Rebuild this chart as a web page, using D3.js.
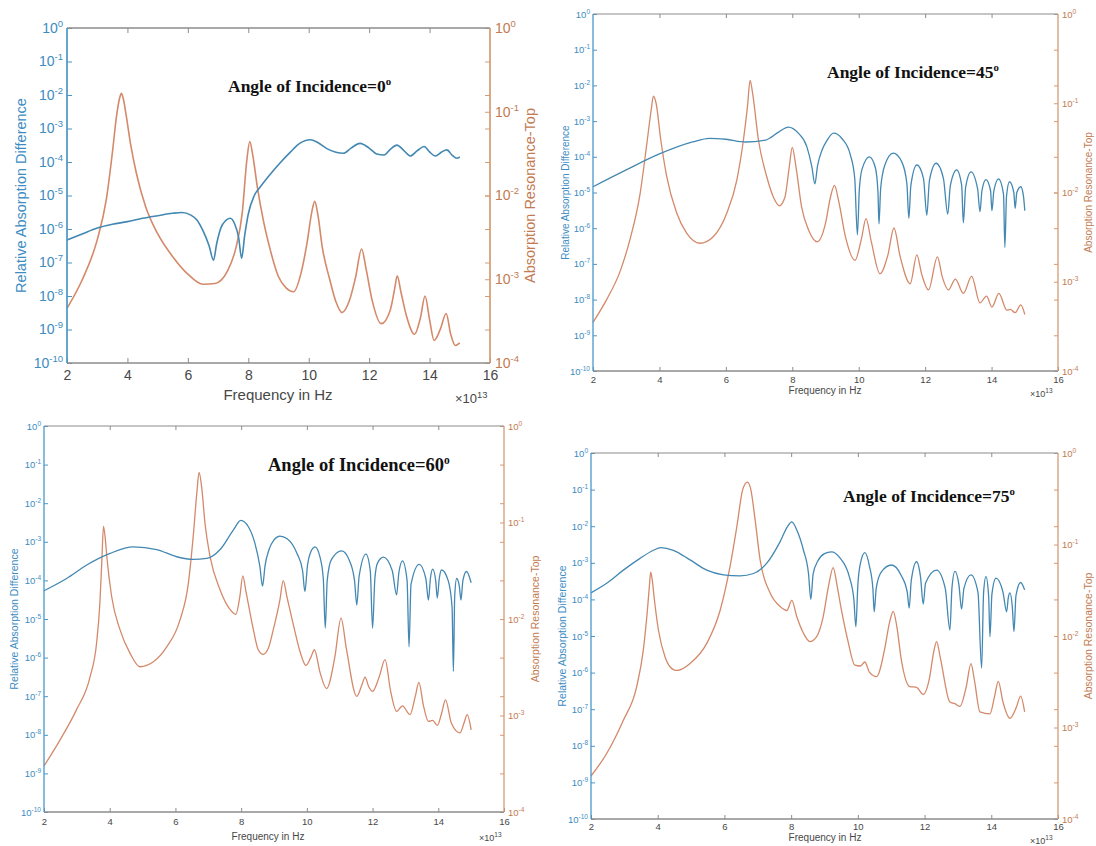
<!DOCTYPE html>
<html>
<head>
<meta charset="utf-8">
<script src="https://cdn.jsdelivr.net/npm/d3@7"></script>
<style>
  body { margin: 0; background: #ffffff; }
  svg { display: block; }
  text { font-family: Arial, "Liberation Sans", Helvetica, sans-serif; }
  .title { font-family: "Liberation Serif", "Times New Roman", serif; font-weight: bold; fill: #111; }
</style>
</head>
<body>
<svg id="fig" width="1096" height="846"></svg>
<script>
// ---- Axis ticks ----
const freqTicks = [2, 4, 6, 8, 10, 12, 14, 16];
const diffTicks = [1, 1e-1, 1e-2, 1e-3, 1e-4, 1e-5, 1e-6, 1e-7, 1e-8, 1e-9, 1e-10];
const resTicks = [1, 1e-1, 1e-2, 1e-3, 1e-4];
const angles = [0, 45, 60, 75];

// ---- Relative absorption difference (left axis), [frequency / 1e13 Hz, value] ----
const diff0 = [[2.0,4.7e-7],[2.5,7.1e-7],[3.0,1.07e-6],[3.5,1.38e-6],[4.0,1.66e-6],[4.5,2.09e-6],[5.0,2.5e-6],[5.5,2.95e-6],[5.8,3.1e-6],[6.1,2.6e-6],[6.3,1.86e-6],[6.5,8.9e-7],[6.7,3.2e-7],[6.85,1.17e-7],[6.95,3.5e-7],[7.1,1.12e-6],[7.25,1.78e-6],[7.4,2.09e-6],[7.55,1.41e-6],[7.68,5.6e-7],[7.78,1.35e-7],[7.88,6.3e-7],[8.0,2.8e-6],[8.2,1.0e-5],[8.4,1.82e-5],[8.7,4.0e-5],[9.05,9.3e-5],[9.4,2.0e-4],[9.7,3.6e-4],[9.9,4.4e-4],[10.05,4.6e-4],[10.3,3.8e-4],[10.6,2.5e-4],[10.9,1.95e-4],[11.15,1.82e-4],[11.4,2.6e-4],[11.7,3.6e-4],[12.0,2.6e-4],[12.25,1.74e-4],[12.5,1.62e-4],[12.7,2.4e-4],[12.92,3.2e-4],[13.15,2.2e-4],[13.36,1.51e-4],[13.6,2.2e-4],[13.82,2.9e-4],[14.0,2.0e-4],[14.19,1.51e-4],[14.4,2.0e-4],[14.57,2.3e-4],[14.75,1.58e-4],[14.9,1.29e-4],[15.0,1.41e-4]];

const diff45 = [[2.0,1.45e-5],[3.0,4.3e-5],[4.0,1.2e-4],[5.0,2.6e-4],[5.5,3.3e-4],[6.0,3.1e-4],[6.6,2.6e-4],[7.2,2.95e-4],[7.6,5.0e-4],[7.88,6.8e-4],[8.18,4.6e-4],[8.44,1.9e-4],[8.59,5.2e-5],[8.68,1.74e-5],[8.76,5.6e-5],[8.9,1.58e-4],[9.04,2.8e-4],[9.24,4.6e-4],[9.5,3.2e-4],[9.75,1.12e-4],[9.88,2.5e-5],[9.96,6.5e-7],[10.02,1.26e-5],[10.1,4.5e-5],[10.32,1.0e-4],[10.5,5.0e-5],[10.58,1.0e-5],[10.61,1.32e-6],[10.66,1.26e-5],[10.78,5.6e-5],[11.04,1.26e-4],[11.3,7.1e-5],[11.45,1.78e-5],[11.51,1.9e-6],[11.57,1.58e-5],[11.75,5.9e-5],[11.95,2.5e-5],[12.05,2.3e-6],[12.13,2.2e-5],[12.33,6.6e-5],[12.55,2.5e-5],[12.68,2.5e-6],[12.76,1.58e-5],[12.95,4.3e-5],[13.1,1.58e-5],[13.15,1.41e-6],[13.22,1.41e-5],[13.38,3.8e-5],[13.58,1.26e-5],[13.65,2.9e-6],[13.71,1.12e-5],[13.83,2.3e-5],[13.97,1.12e-5],[14.01,3.1e-6],[14.07,1.12e-5],[14.21,2.4e-5],[14.36,8.9e-6],[14.40,2.9e-7],[14.45,7.9e-6],[14.54,2.0e-5],[14.67,1.0e-5],[14.71,3.6e-6],[14.76,1.0e-5],[14.88,1.45e-5],[14.96,7.9e-6],[15.0,3.1e-6]];

const diff60 = [[2.0,5.4e-5],[2.69,1.12e-4],[3.3,2.5e-4],[4.01,5.0e-4],[4.72,7.4e-4],[5.43,6.3e-4],[6.04,4.1e-4],[6.54,3.5e-4],[6.95,3.7e-4],[7.36,6.3e-4],[7.76,2.0e-3],[7.99,3.6e-3],[8.22,2.45e-3],[8.42,9.1e-4],[8.57,2.3e-4],[8.65,7.1e-5],[8.73,2.5e-4],[8.85,6.3e-4],[9.0,1.12e-3],[9.18,1.41e-3],[9.4,1.2e-3],[9.7,5.0e-4],[9.87,1.78e-4],[9.94,5.1e-5],[10.02,2.5e-4],[10.1,5.0e-4],[10.25,7.4e-4],[10.4,4.0e-4],[10.5,1.12e-4],[10.56,5.8e-6],[10.62,1.0e-4],[10.75,3.5e-4],[11.06,5.8e-4],[11.3,3.2e-4],[11.45,1.0e-4],[11.52,2.3e-5],[11.59,1.26e-4],[11.8,4.8e-4],[11.93,1.78e-4],[12.0,5.8e-6],[12.07,1.12e-4],[12.15,2.8e-4],[12.33,4.0e-4],[12.6,1.78e-4],[12.73,4.2e-5],[12.8,1.58e-4],[12.91,3.2e-4],[13.05,1.0e-4],[13.11,1.9e-6],[13.17,7.9e-5],[13.42,2.6e-4],[13.62,1.12e-4],[13.7,3.1e-5],[13.76,1.12e-4],[13.83,1.95e-4],[13.92,1.0e-4],[13.97,3.5e-5],[14.03,1.12e-4],[14.1,1.86e-4],[14.3,1.0e-4],[14.42,2.0e-5],[14.46,4.4e-7],[14.5,4.0e-5],[14.56,1.12e-4],[14.64,7.1e-5],[14.69,3.1e-5],[14.75,1.0e-4],[14.86,1.7e-4],[15.0,8.7e-5]];

const diff75 = [[2.0,1.51e-4],[2.47,2.75e-4],[2.97,6.3e-4],[3.47,1.32e-3],[3.87,2.2e-3],[4.09,2.6e-3],[4.47,2.2e-3],[4.97,1.2e-3],[5.47,6.3e-4],[5.97,4.7e-4],[6.47,4.4e-4],[6.87,5.1e-4],[7.27,9.8e-4],[7.67,3.8e-3],[7.89,9.8e-3],[8.02,1.32e-2],[8.17,7.9e-3],[8.37,2.2e-3],[8.52,5.1e-4],[8.59,1.0e-4],[8.66,5.0e-4],[8.8,1.12e-3],[9.0,1.78e-3],[9.21,2.0e-3],[9.45,1.41e-3],[9.75,4.0e-4],[9.88,1.0e-4],[9.94,1.78e-5],[10.0,2.5e-4],[10.08,1.0e-3],[10.21,1.9e-3],[10.35,7.9e-4],[10.45,2.0e-4],[10.49,4.6e-5],[10.55,2.0e-4],[10.7,5.6e-4],[11.01,8.7e-4],[11.3,4.5e-4],[11.48,1.58e-4],[11.54,5.8e-5],[11.6,3.2e-4],[11.76,1.07e-3],[11.88,4.0e-4],[11.96,7.4e-5],[12.03,2.8e-4],[12.36,6.3e-4],[12.62,2.0e-4],[12.76,1.45e-5],[12.82,2.0e-4],[12.91,5.8e-4],[13.03,2.5e-4],[13.11,5.4e-5],[13.18,2.0e-4],[13.39,4.7e-4],[13.6,1.58e-4],[13.71,1.32e-6],[13.77,1.58e-4],[13.84,4.2e-4],[13.92,1.26e-4],[13.96,9.5e-6],[14.02,1.41e-4],[14.14,3.8e-4],[14.35,1.58e-4],[14.46,4.6e-5],[14.51,1.12e-4],[14.56,1.51e-4],[14.63,6.3e-5],[14.68,1.32e-5],[14.74,1.26e-4],[14.88,2.9e-4],[15.0,1.82e-4]];

// ---- Absorption resonance, top layer (right axis), [frequency / 1e13 Hz, value] ----
const top0 = [[2.0,4.5e-4],[2.5,9.8e-4],[3.0,2.95e-3],[3.3,8.9e-3],[3.5,3.2e-2],[3.65,9.5e-2],[3.74,0.145],[3.8,0.166],[3.86,0.145],[3.95,9.5e-2],[4.1,4.2e-2],[4.3,1.82e-2],[4.6,7.4e-3],[5.0,3.5e-3],[5.5,1.86e-3],[6.0,1.15e-3],[6.5,8.7e-4],[6.9,8.9e-4],[7.3,1.23e-3],[7.6,2.45e-3],[7.8,6.2e-3],[7.95,2.6e-2],[8.05,4.4e-2],[8.15,3.0e-2],[8.3,1.26e-2],[8.5,5.0e-3],[8.7,2.45e-3],[9.0,1.07e-3],[9.25,7.9e-4],[9.5,7.1e-4],[9.75,1.2e-3],[9.95,2.8e-3],[10.1,6.3e-3],[10.2,8.5e-3],[10.3,6.0e-3],[10.45,2.4e-3],[10.7,9.8e-4],[10.9,5.4e-4],[11.1,4.0e-4],[11.35,5.6e-4],[11.55,1.05e-3],[11.75,2.3e-3],[11.9,1.32e-3],[12.1,5.6e-4],[12.4,2.95e-4],[12.7,4.3e-4],[12.85,7.9e-4],[12.93,1.1e-3],[13.05,7.1e-4],[13.25,3.5e-4],[13.5,2.2e-4],[13.7,3.5e-4],[13.85,6.3e-4],[14.0,3.3e-4],[14.15,1.86e-4],[14.35,2.5e-4],[14.55,3.9e-4],[14.7,2.2e-4],[14.85,1.62e-4],[15.0,1.74e-4]];

const top45 = [[2.0,3.5e-4],[2.41,6.3e-4],[2.81,1.29e-3],[3.11,2.95e-3],[3.42,9.8e-3],[3.62,3.5e-2],[3.75,8.3e-2],[3.82,0.12],[3.9,0.1],[4.04,3.9e-2],[4.22,1.51e-2],[4.52,5.9e-3],[4.82,3.5e-3],[5.22,2.7e-3],[5.62,3.2e-3],[6.03,5.9e-3],[6.33,1.38e-2],[6.53,3.9e-2],[6.65,9.1e-2],[6.73,0.18],[6.81,0.126],[6.98,3.9e-2],[7.23,1.51e-2],[7.43,8.9e-3],[7.61,7.1e-3],[7.78,8.9e-3],[7.91,1.95e-2],[8.0,3.2e-2],[8.11,1.95e-2],[8.28,6.9e-3],[8.49,3.8e-3],[8.75,2.8e-3],[9.0,4.5e-3],[9.15,8.9e-3],[9.27,1.2e-2],[9.4,7.9e-3],[9.6,3.2e-3],[9.89,1.74e-3],[10.08,3.0e-3],[10.22,5.1e-3],[10.38,2.8e-3],[10.64,1.23e-3],[10.88,2.0e-3],[11.06,4.0e-3],[11.25,1.9e-3],[11.55,9.5e-4],[11.75,2.0e-3],[11.9,1.2e-3],[12.1,8.1e-4],[12.37,1.9e-3],[12.52,1.12e-3],[12.7,8.1e-4],[12.91,1.07e-3],[13.15,7.4e-4],[13.40,1.15e-3],[13.65,5.8e-4],[13.85,6.9e-4],[14.01,5.2e-4],[14.22,7.4e-4],[14.46,4.8e-4],[14.56,4.9e-4],[14.71,4.5e-4],[14.88,5.5e-4],[15.0,4.3e-4]];

const top60 = [[2.0,3.0e-4],[2.49,5.6e-4],[2.99,1.15e-3],[3.4,2.5e-3],[3.6,5.6e-3],[3.7,1.45e-2],[3.76,4.0e-2],[3.81,9.1e-2],[3.86,7.1e-2],[3.91,4.5e-2],[4.06,1.7e-2],[4.31,7.8e-3],[4.62,4.4e-3],[4.92,3.2e-3],[5.33,3.6e-3],[5.73,5.1e-3],[6.14,9.8e-3],[6.39,2.3e-2],[6.54,7.1e-2],[6.65,0.2],[6.72,0.33],[6.8,0.23],[6.9,9.8e-2],[7.05,4.5e-2],[7.36,2.0e-2],[7.66,1.26e-2],[7.84,1.12e-2],[7.96,1.7e-2],[8.05,2.8e-2],[8.15,1.9e-2],[8.37,7.8e-3],[8.52,4.8e-3],[8.67,4.3e-3],[8.83,5.0e-3],[8.98,7.8e-3],[9.18,1.58e-2],[9.28,2.5e-2],[9.4,1.66e-2],[9.59,8.7e-3],[9.8,4.5e-3],[9.97,3.3e-3],[10.12,4.0e-3],[10.23,4.8e-3],[10.4,2.8e-3],[10.6,1.9e-3],[10.85,4.0e-3],[11.04,1.02e-2],[11.2,5.0e-3],[11.52,1.58e-3],[11.68,2.1e-3],[11.77,2.5e-3],[11.88,2.0e-3],[12.0,1.78e-3],[12.2,2.5e-3],[12.38,3.8e-3],[12.55,1.78e-3],[12.73,1.1e-3],[12.91,1.26e-3],[13.14,1.02e-3],[13.3,1.58e-3],[13.41,2.2e-3],[13.55,1.26e-3],[13.7,8.7e-4],[13.83,8.9e-4],[13.97,7.9e-4],[14.1,1.05e-3],[14.22,1.45e-3],[14.4,8.3e-4],[14.66,6.6e-4],[14.78,8.3e-4],[14.88,1.02e-3],[15.0,7.1e-4]];

const top75 = [[2.0,2.95e-4],[2.47,5.2e-4],[2.97,1.2e-3],[3.37,2.8e-3],[3.57,7.1e-3],[3.69,1.9e-2],[3.75,3.5e-2],[3.79,5.0e-2],[3.84,4.0e-2],[3.89,2.7e-2],[4.02,1.17e-2],[4.22,5.9e-3],[4.47,4.3e-3],[4.59,4.2e-3],[4.97,5.0e-3],[5.47,8.3e-3],[5.87,1.9e-2],[6.17,5.8e-2],[6.37,0.155],[6.55,0.4],[6.69,0.48],[6.79,0.4],[6.92,0.186],[7.07,6.8e-2],[7.37,2.95e-2],[7.67,2.1e-2],[7.87,1.9e-2],[8.02,2.45e-2],[8.17,1.62e-2],[8.37,1.07e-2],[8.56,8.7e-3],[8.76,9.8e-3],[8.96,1.62e-2],[9.12,3.5e-2],[9.26,5.6e-2],[9.38,3.5e-2],[9.51,1.9e-2],[9.7,8.9e-3],[9.91,4.8e-3],[10.08,4.7e-3],[10.21,5.2e-3],[10.35,4.0e-3],[10.56,3.6e-3],[10.8,7.1e-3],[10.95,1.41e-2],[11.06,1.86e-2],[11.17,1.26e-2],[11.3,5.6e-3],[11.56,2.8e-3],[11.76,2.75e-3],[11.96,2.3e-3],[12.15,3.5e-3],[12.27,6.6e-3],[12.36,8.7e-3],[12.48,5.6e-3],[12.76,1.9e-3],[12.91,1.82e-3],[13.06,1.7e-3],[13.25,2.8e-3],[13.39,5.0e-3],[13.5,3.2e-3],[13.66,1.48e-3],[13.96,1.41e-3],[14.1,2.2e-3],[14.21,3.2e-3],[14.35,1.9e-3],[14.56,1.26e-3],[14.75,1.66e-3],[14.88,2.2e-3],[15.0,1.48e-3]];

const diffSeries = [diff0, diff45, diff60, diff75];
const topSeries = [top0, top45, top60, top75];

// ---- Panel placement and styling ----
const small = { fs: 9.5, sup: 6.5, supDy: -4, lab: 10, tick: 4, axisW: 1.3, lineW: 1.3, pad: 3 };
const layouts = [
  { x0: 67, x1: 490, y0: 28, y1: 363, fs: 14, sup: 9.5, supDy: -6, lab: 14.5, tick: 5, axisW: 1.7, lineW: 1.6, pad: 4,
    xLabY: 380, freqY: 400, freqFs: 15, freqX: 278, expX: 455, expY: 403, expFs: 13,
    leftLabX: 21, rightLabX: 530, titleX: 228, titleY: 92, titleFs: 17.5 },
  Object.assign({}, small, { x0: 593, x1: 1058, y0: 14, y1: 371,
    xLabY: 383, freqY: 394, freqFs: 10, freqX: 825, expX: 1030, expY: 397, expFs: 9,
    leftLabX: 565, rightLabX: 1088, titleX: 827, titleY: 78, titleFs: 17.5 }),
  Object.assign({}, small, { x0: 44, x1: 504, y0: 426, y1: 812, lab: 10.5,
    xLabY: 825, freqY: 840, freqFs: 10, freqX: 268, expX: 479, expY: 841, expFs: 9,
    leftLabX: 14, rightLabX: 535, titleX: 268, titleY: 471, titleFs: 18.5 }),
  Object.assign({}, small, { x0: 591, x1: 1058, y0: 453, y1: 819, lab: 10.5,
    xLabY: 830, freqY: 841, freqFs: 10, freqX: 825, expX: 1030, expY: 844, expFs: 9,
    leftLabX: 562, rightLabX: 1088, titleX: 843, titleY: 502, titleFs: 17.5 })
];

const C = {
  leftAxis: "#4a97c9", leftText: "#3d8cc2",
  rightAxis: "#d49a74", rightText: "#c27b52",
  box: "#8c8c8c", xText: "#474747",
  diffLine: "#4388b2", topLine: "#d4896a"
};

const svg = d3.select("#fig");

// "10" with the decade exponent raised
function powerLabel(textSel, v, L) {
  const k = Math.round(Math.log10(v));
  textSel.text(null);
  textSel.append("tspan").text("10");
  textSel.append("tspan").attr("dy", L.supDy).attr("font-size", L.sup).text(k);
}

layouts.forEach((L, i) => {
  const g = svg.append("g").attr("class", "panel");
  const x = d3.scaleLinear().domain([2, 16]).range([L.x0, L.x1]);
  const yL = d3.scaleLog().domain([1e-10, 1]).range([L.y1, L.y0]);
  const yR = d3.scaleLog().domain([1e-4, 1]).range([L.y1, L.y0]);

  // curves
  const lineL = d3.line().x(d => x(d[0])).y(d => yL(d[1])).curve(d3.curveMonotoneX);
  const lineR = d3.line().x(d => x(d[0])).y(d => yR(d[1])).curve(d3.curveMonotoneX);
  g.append("path").datum(topSeries[i]).attr("d", lineR)
    .attr("fill", "none").attr("stroke", C.topLine).attr("stroke-width", L.lineW);
  g.append("path").datum(diffSeries[i]).attr("d", lineL)
    .attr("fill", "none").attr("stroke", C.diffLine).attr("stroke-width", L.lineW);

  // bottom axis with labels
  const xb = g.append("g").attr("transform", `translate(0,${L.y1})`)
    .call(d3.axisBottom(x).tickValues(freqTicks).tickSize(-L.tick).tickSizeOuter(0));
  xb.select(".domain").remove();
  xb.selectAll(".tick line").attr("stroke", C.box);
  xb.selectAll(".tick text").attr("y", L.xLabY - L.y1).attr("dy", null)
    .attr("font-size", L.fs).attr("fill", C.xText).attr("font-family", null);

  // top axis ticks only
  const xt = g.append("g").attr("transform", `translate(0,${L.y0})`)
    .call(d3.axisTop(x).tickValues(freqTicks.slice(1, -1)).tickSize(-L.tick).tickFormat(""));
  xt.select(".domain").remove();
  xt.selectAll(".tick line").attr("stroke", C.box);

  // left axis
  const ya = g.append("g").attr("transform", `translate(${L.x0},0)`)
    .call(d3.axisLeft(yL).tickValues(diffTicks).tickSize(-L.tick).tickPadding(L.pad));
  ya.select(".domain").remove();
  ya.selectAll(".tick line").attr("stroke", C.leftAxis);
  ya.selectAll(".tick text").attr("font-size", L.fs).attr("fill", C.leftText).attr("font-family", null)
    .each(function (d) { powerLabel(d3.select(this), d, L); });

  // right axis: labelled decades plus ticks aligned with the left-axis decades
  const rightGrid = diffTicks.map(v => yR.invert(yL(v)));
  const yr2 = g.append("g").attr("transform", `translate(${L.x1},0)`)
    .call(d3.axisRight(yR).tickValues(rightGrid).tickSize(-L.tick).tickFormat(""));
  yr2.select(".domain").remove();
  yr2.selectAll(".tick line").attr("stroke", C.rightAxis);
  const yr = g.append("g").attr("transform", `translate(${L.x1},0)`)
    .call(d3.axisRight(yR).tickValues(resTicks).tickSize(-L.tick).tickPadding(L.pad + 1));
  yr.select(".domain").remove();
  yr.selectAll(".tick line").attr("stroke", C.rightAxis);
  yr.selectAll(".tick text").attr("font-size", L.fs).attr("fill", C.rightText).attr("font-family", null)
    .each(function (d) { powerLabel(d3.select(this), d, L); });

  // frame
  g.append("line").attr("x1", L.x0).attr("x2", L.x1).attr("y1", L.y0).attr("y2", L.y0)
    .attr("stroke", C.box).attr("stroke-width", L.axisW * 0.8);
  g.append("line").attr("x1", L.x0).attr("x2", L.x1).attr("y1", L.y1).attr("y2", L.y1)
    .attr("stroke", C.box).attr("stroke-width", L.axisW);
  g.append("line").attr("x1", L.x0).attr("x2", L.x0).attr("y1", L.y0).attr("y2", L.y1)
    .attr("stroke", C.leftAxis).attr("stroke-width", L.axisW);
  g.append("line").attr("x1", L.x1).attr("x2", L.x1).attr("y1", L.y0).attr("y2", L.y1)
    .attr("stroke", C.rightAxis).attr("stroke-width", L.axisW);

  // axis titles
  const midY = (L.y0 + L.y1) / 2;
  g.append("text").attr("transform", `translate(${L.leftLabX},${midY}) rotate(-90)`)
    .attr("text-anchor", "middle").attr("dominant-baseline", "central")
    .attr("font-size", L.lab).attr("fill", C.leftText).text("Relative Absorption Difference");
  g.append("text").attr("transform", `translate(${L.rightLabX},${midY}) rotate(-90)`)
    .attr("text-anchor", "middle").attr("dominant-baseline", "central")
    .attr("font-size", L.lab).attr("fill", C.rightText).text("Absorption Resonance-Top");
  g.append("text").attr("x", L.freqX).attr("y", L.freqY).attr("text-anchor", "middle")
    .attr("font-size", L.freqFs).attr("fill", C.xText).text("Frequency in Hz");
  const ex = g.append("text").attr("x", L.expX).attr("y", L.expY)
    .attr("font-size", L.expFs).attr("fill", C.xText);
  ex.append("tspan").text("\u00d710");
  ex.append("tspan").attr("dy", -L.expFs * 0.4).attr("font-size", L.expFs * 0.72).text("13");

  // panel title
  const t = g.append("text").attr("class", "title").attr("x", L.titleX).attr("y", L.titleY)
    .attr("font-size", L.titleFs);
  t.append("tspan").text(`Angle of Incidence=${angles[i]}`);
  t.append("tspan").attr("dy", -L.titleFs * 0.4).attr("font-size", L.titleFs * 0.62).text("o");
});
</script>
</body>
</html>
